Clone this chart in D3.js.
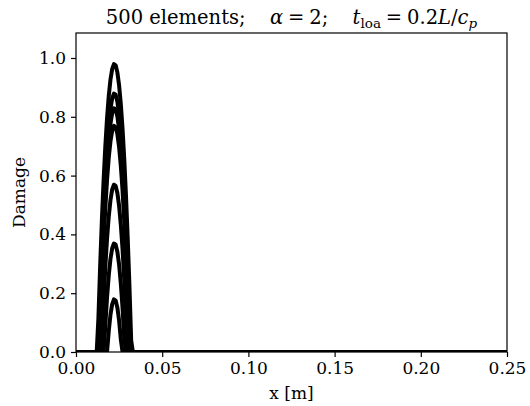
<!DOCTYPE html>
<html>
<head>
<meta charset="utf-8">
<script src="https://cdn.jsdelivr.net/npm/d3@7"></script>
<style>
  html, body { margin: 0; padding: 0; background: #fff; }
  svg { display: block; }
  text { font-family: "DejaVu Serif", serif; fill: #000; }
</style>
</head>
<body>
<svg id="chart" width="530" height="406"></svg>
<script>
// Damage profiles along the bar at successive output times
const xPos = [0, 0.012, 0.013, 0.014, 0.015, 0.016, 0.017, 0.018, 0.019, 0.020, 0.021,
              0.022, 0.023, 0.024, 0.025, 0.026, 0.027, 0.028, 0.029, 0.030, 0.031,
              0.032, 0.033, 0.25];
const damage1 = [0, 0, 0.115, 0.291, 0.447, 0.583, 0.699, 0.795, 0.871, 0.927, 0.963, 0.979, 0.975, 0.951, 0.907, 0.843, 0.759, 0.655, 0.531, 0.387, 0.223, 0.039, 0, 0];
const damage2 = [0, 0, 0.015, 0.191, 0.347, 0.483, 0.599, 0.695, 0.771, 0.827, 0.863, 0.879, 0.875, 0.851, 0.807, 0.743, 0.659, 0.555, 0.431, 0.287, 0.123, 0, 0, 0];
const damage3 = [0, 0, 0, 0.141, 0.297, 0.433, 0.549, 0.645, 0.721, 0.777, 0.813, 0.829, 0.825, 0.801, 0.757, 0.693, 0.609, 0.505, 0.381, 0.237, 0.073, 0, 0, 0];
const damage4 = [0, 0, 0, 0.081, 0.237, 0.373, 0.489, 0.585, 0.661, 0.717, 0.753, 0.769, 0.765, 0.741, 0.697, 0.633, 0.549, 0.445, 0.321, 0.177, 0.013, 0, 0, 0];
const damage5 = [0, 0, 0, 0, 0.037, 0.173, 0.289, 0.385, 0.461, 0.517, 0.553, 0.569, 0.565, 0.541, 0.497, 0.433, 0.349, 0.245, 0.121, 0, 0, 0, 0, 0];
const damage6 = [0, 0, 0, 0, 0, 0, 0.089, 0.185, 0.261, 0.317, 0.353, 0.369, 0.365, 0.341, 0.297, 0.233, 0.149, 0.045, 0, 0, 0, 0, 0, 0];
const damage7 = [0, 0, 0, 0, 0, 0, 0, 0, 0.071, 0.127, 0.163, 0.179, 0.175, 0.151, 0.107, 0.043, 0, 0, 0, 0, 0, 0, 0, 0];
const seriesList = [damage1, damage2, damage3, damage4, damage5, damage6, damage7];

const xTicks = [0, 0.05, 0.10, 0.15, 0.20, 0.25];
const yTicks = [0, 0.2, 0.4, 0.6, 0.8, 1.0];
const xDomain = [0, 0.25];
const yDomain = [0, 1.085];

const svg = d3.select("#chart");
const margin = { left: 76, right: 23, top: 33, bottom: 54 };
const W = 530, H = 406;
const x = d3.scaleLinear().domain(xDomain).range([margin.left, W - margin.right]);
const y = d3.scaleLinear().domain(yDomain).range([H - margin.bottom, margin.top]);

svg.append("rect").attr("width", W).attr("height", H).attr("fill", "#fff");

svg.append("clipPath").attr("id", "plotClip")
  .append("rect")
  .attr("x", x(0)).attr("y", y(yDomain[1]))
  .attr("width", x(xDomain[1]) - x(0))
  .attr("height", y(0) - y(yDomain[1]));

const line = d3.line()
  .x((d, i) => x(xPos[i]))
  .y(d => y(d));

const plot = svg.append("g").attr("clip-path", "url(#plotClip)");
plot.selectAll("path.profile")
  .data(seriesList)
  .join("path")
  .attr("class", "profile")
  .attr("d", line)
  .attr("fill", "none")
  .attr("stroke", "#000")
  .attr("stroke-width", 4)
  .attr("stroke-linejoin", "round");

// Axes
const xAxis = d3.axisBottom(x).tickValues(xTicks).tickFormat(d3.format(".2f")).tickSizeOuter(0).tickSize(5).tickPadding(5);
const yAxis = d3.axisLeft(y).tickValues(yTicks).tickFormat(d3.format(".1f")).tickSizeOuter(0).tickSize(5).tickPadding(5);

const gx = svg.append("g").attr("transform", `translate(0,${y(0)})`).call(xAxis);
const gy = svg.append("g").attr("transform", `translate(${x(0)},0)`).call(yAxis);
[gx, gy].forEach(g => {
  g.select(".domain").remove();
  g.selectAll(".tick line").attr("stroke", "#000").attr("stroke-width", 1.2);
  g.selectAll(".tick text").attr("font-family", "DejaVu Serif").attr("font-size", 17).attr("fill", "#000");
});

// Frame
svg.append("rect")
  .attr("x", x(0)).attr("y", y(yDomain[1]))
  .attr("width", x(xDomain[1]) - x(0))
  .attr("height", y(0) - y(yDomain[1]))
  .attr("fill", "none").attr("stroke", "#000").attr("stroke-width", 1.2);

// Axis labels
svg.append("text")
  .attr("x", (x(0) + x(0.25)) / 2).attr("y", 399)
  .attr("text-anchor", "middle").attr("font-size", 17)
  .text("x [m]");

svg.append("text")
  .attr("transform", `translate(25,${(y(0) + y(yDomain[1])) / 2}) rotate(-90)`)
  .attr("text-anchor", "middle").attr("font-size", 17)
  .text("Damage");

// Title
const title = svg.append("text")
  .attr("x", (x(0) + x(0.25)) / 2).attr("y", 24)
  .attr("text-anchor", "middle").attr("font-size", 19.5)
  .attr("xml:space", "preserve");
title.append("tspan").text("500 elements;\u2003\u2005");
title.append("tspan").attr("font-style", "italic").text("\u03b1");
title.append("tspan").text("\u2005=\u20052;\u2003\u2005");
title.append("tspan").attr("font-style", "italic").text("t");
title.append("tspan").attr("font-size", 13.5).attr("dy", 4).text("loa");
title.append("tspan").attr("dy", -4).text("\u2005=\u20050.2");
title.append("tspan").attr("font-style", "italic").text("L");
title.append("tspan").text("/");
title.append("tspan").attr("font-style", "italic").text("c");
title.append("tspan").attr("font-style", "italic").attr("font-size", 13.5).attr("dy", 4).text("p");
</script>
</body>
</html>
